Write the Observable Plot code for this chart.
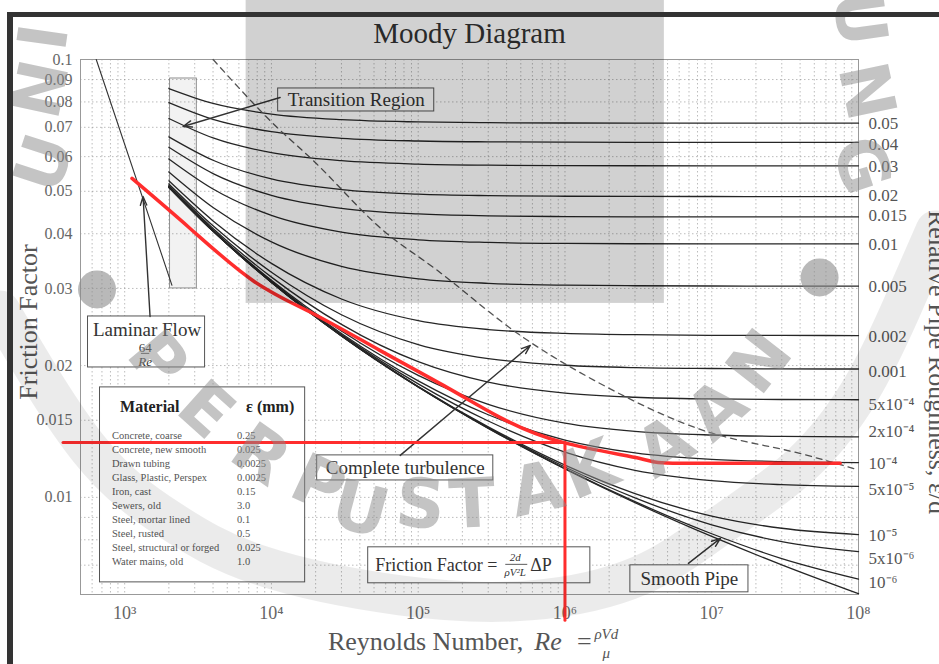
<!DOCTYPE html>
<html><head><meta charset="utf-8">
<script src="https://cdn.jsdelivr.net/npm/d3@7"></script>
<script src="https://cdn.jsdelivr.net/npm/@observablehq/plot@0.6"></script>
<style>
html,body{margin:0;padding:0;background:#fff;}
#wrap{position:relative;width:939px;height:664px;overflow:hidden;background:#fff;}
#chart{position:absolute;left:0;top:0;}
.bar{position:absolute;background:#333;z-index:5;}
</style></head><body>
<div id="wrap"><div id="chart"></div>
<div class="bar" style="left:7px;top:12px;width:932px;height:5px"></div>
<div class="bar" style="left:7px;top:12px;width:6px;height:652px"></div>
</div>
<script>
// ---------- DATA ----------
const reGrid = [2000, 4000, 1e4, 3e4, 1e5, 3e5, 1e6, 3e6, 1e7, 3e7, 1e8];
const fEps05  = [0.08584, 0.07938, 0.07505, 0.07286, 0.07200, 0.07172, 0.07161, 0.07157, 0.07156, 0.07155, 0.07155];
const fEps04  = [0.07972, 0.07298, 0.06840, 0.06608, 0.06515, 0.06485, 0.06473, 0.06469, 0.06468, 0.06467, 0.06467];
const fEps03  = [0.07334, 0.06621, 0.06127, 0.05873, 0.05770, 0.05737, 0.05724, 0.05720, 0.05718, 0.05718, 0.05718];
const fEps02  = [0.06659, 0.05887, 0.05336, 0.05045, 0.04926, 0.04887, 0.04872, 0.04867, 0.04865, 0.04864, 0.04864];
const fEps015 = [0.06302, 0.05489, 0.04895, 0.04573, 0.04439, 0.04395, 0.04378, 0.04372, 0.04370, 0.04369, 0.04369];
const fEps01  = [0.05929, 0.05062, 0.04404, 0.04034, 0.03875, 0.03822, 0.03801, 0.03795, 0.03792, 0.03791, 0.03791];
const fEps005 = [0.05534, 0.04591, 0.03833, 0.03369, 0.03156, 0.03082, 0.03052, 0.03043, 0.03039, 0.03038, 0.03037];
const fEps002 = [0.05283, 0.04280, 0.03422, 0.02838, 0.02533, 0.02417, 0.02368, 0.02352, 0.02345, 0.02343, 0.02342];
const fEps001 = [0.05197, 0.04170, 0.03267, 0.02613, 0.02234, 0.02075, 0.02003, 0.01978, 0.01969, 0.01965, 0.01964];
const fEps5e4 = [0.05154, 0.04113, 0.03184, 0.02483, 0.02041, 0.01833, 0.01730, 0.01693, 0.01678, 0.01673, 0.01671];
const fEps2e4 = [0.05127, 0.04078, 0.03132, 0.02398, 0.01899, 0.01631, 0.01477, 0.01415, 0.01388, 0.01378, 0.01375];
const fEps1e4 = [0.05118, 0.04067, 0.03115, 0.02368, 0.01845, 0.01544, 0.01351, 0.01263, 0.01221, 0.01207, 0.01201];
const fEps5e5 = [0.05114, 0.04061, 0.03106, 0.02353, 0.01816, 0.01494, 0.01269, 0.01153, 0.01092, 0.01069, 0.01059];
const fEps1e5 = [0.05110, 0.04056, 0.03099, 0.02340, 0.01792, 0.01449, 0.01185, 0.01020, 0.009059, 0.008500, 0.008224];
const fEps5e6 = [0.05110, 0.04056, 0.03098, 0.02339, 0.01789, 0.01443, 0.01173, 0.009974, 0.008657, 0.007927, 0.007519];
const fEps1e6 = [0.05110, 0.04055, 0.03098, 0.02338, 0.01787, 0.01439, 0.01163, 0.009776, 0.008258, 0.007249, 0.006506];
const fSmooth = [0.05110, 0.04055, 0.03097, 0.02337, 0.01786, 0.01437, 0.01161, 0.009724, 0.008142, 0.007013, 0.006026];

const roughLabels = ["0.05","0.04","0.03","0.02","0.015","0.01","0.005","0.002","0.001","5x10⁻⁴","2x10⁻⁴","10⁻⁴","5x10⁻⁵","10⁻⁵","5x10⁻⁶","10⁻⁶"];
const roughLabelF = [0.0714, 0.0640, 0.0570, 0.0489, 0.0440, 0.0378, 0.0303, 0.0233, 0.0194, 0.0163, 0.0141, 0.01196, 0.01043, 0.00819, 0.00726, 0.00640];

const laminarRe = [640, 2100];
const laminarF  = [0.1, 0.0305];

const dashRe = [4004, 10270, 19240, 57740, 134800, 496100, 1944000, 7990000, 44900000, 100000000];
const dashF  = [0.1, 0.0714, 0.0588, 0.0407, 0.0330, 0.02344, 0.01783, 0.01437, 0.01247, 0.01155];

const redCurveRe = [1122, 2790, 7460, 19130, 54780, 156800, 360400, 969000, 3246000, 6080000, 75000000];
const redCurveF  = [0.0535, 0.04113, 0.03129, 0.0263, 0.02166, 0.01783, 0.01523, 0.01335, 0.01227, 0.01196, 0.01196];
const redHRe = [380, 1e6];
const redHF  = [0.01335, 0.01335];
const redVRe = [1e6, 1e6];
const redVF  = [0.01335, 0.005238];

const yTickValues = [0.1, 0.09, 0.08, 0.07, 0.06, 0.05, 0.04, 0.03, 0.02, 0.015, 0.01];
const yTickLabels = ["0.1","0.09","0.08","0.07","0.06","0.05","0.04","0.03","0.02","0.015","0.01"];
const xTickValues = [1e3, 1e4, 1e5, 1e6, 1e7, 1e8];
const xTickLabels = ["10³","10⁴","10⁵","10⁶","10⁷","10⁸"];

const materialNames = ["Concrete, coarse","Concrete, new smooth","Drawn tubing","Glass, Plastic, Perspex","Iron, cast","Sewers, old","Steel, mortar lined","Steel, rusted","Steel, structural or forged","Water mains, old"];
const materialEps = ["0.25","0.025","0.0025","0.0025","0.15","3.0","0.1","0.5","0.025","1.0"];

const wmChars = ["I","N","U","U","N","G","P","E","R","P","U","S","T","A","K","A","A","N"];

// ---------- build tables ----------
const curves = [
  ["0.05", fEps05], ["0.04", fEps04], ["0.03", fEps03], ["0.02", fEps02], ["0.015", fEps015],
  ["0.01", fEps01], ["0.005", fEps005], ["0.002", fEps002], ["0.001", fEps001], ["5e-4", fEps5e4],
  ["2e-4", fEps2e4], ["1e-4", fEps1e4], ["5e-5", fEps5e5], ["1e-5", fEps1e5], ["5e-6", fEps5e6],
  ["1e-6", fEps1e6], ["smooth", fSmooth]
];
const curveRows = curves.flatMap(([name, fs]) => reGrid.map((re, i) => ({re, f: fs[i], name})));
const pairs = (xs, ys) => xs.map((x, i) => ({x, y: ys[i]}));
const roughRows = roughLabels.map((t, i) => ({t, f: roughLabelF[i]}));
const yTickRows = yTickValues.map((v, i) => ({v, t: yTickLabels[i]}));

// ---------- annotation layout (data units) ----------
const rowF = [0.013853, 0.012873, 0.011962, 0.011108, 0.010320, 0.009588, 0.008909, 0.008277, 0.007690, 0.007144];
const materialRows = materialNames.map((n, i) => ({n, e: materialEps[i], f: rowF[i]}));
const boxes = [
  {x1: 11110, x2: 128600, y1: 0.07608, y2: 0.08587},
  {x1: 562.5, x2: 3530, y1: 0.01980, y2: 0.02589},
  {x1: 679, x2: 16970, y1: 0.006395, y2: 0.01783},
  {x1: 20490, x2: 324800, y1: 0.01093, y2: 0.01247},
  {x1: 45630, x2: 1489000, y1: 0.006364, y2: 0.00769},
  {x1: 2.79e6, x2: 1.779e7, y1: 0.006069, y2: 0.006995}
];
const annText = [
  {x: 37790, y: 0.08081, t: "Transition Region"},
  {x: 1420, y: 0.02418, t: "Laminar Flow"},
  {x: 81540, y: 0.01168, t: "Complete turbulence"},
  {x: 7.04e6, y: 0.006498, t: "Smooth Pipe"}
];
const arrows = [
  {x1: 11460, y1: 0.08187, x2: 2500, y2: 0.07031},
  {x1: 1489, y1: 0.02589, x2: 1334, y2: 0.04867},
  {x1: 75410, y1: 0.01247, x2: 580200, y2: 0.02223},
  {x1: 6.93e6, y1: 0.007068, x2: 1.146e7, y2: 0.008061}
];
const transBox = [{x1: 2040, x2: 3100, y1: 0.030, y2: 0.0905}];
const overlay = [{x1: 6721, x2: 4757000, y1: 0.02773, y2: 0.1364}];
const wmPos = [
  [286.4, 0.1123, -82], [273.3, 0.08542, -78], [286.4, 0.05790, -72],
  [1e8, 0.1241, 82], [1.116e8, 0.08451, 78], [1.032e8, 0.05728, 72],
  [1665, 0.02055, 50], [3538, 0.01579, 42], [8372, 0.01247, 35], [20810, 0.01065, 25],
  [40230, 0.009339, 15], [103200, 0.009588, 5], [233400, 0.009588, -3], [647900, 0.01038, -12],
  [1489000, 0.01152, -22], [4834000, 0.01301, -32], [10940000, 0.01579, -42], [21480000, 0.02033, -52]
];
const wmRows = wmChars.map((c, i) => ({c, x: wmPos[i][0], y: wmPos[i][1], r: wmPos[i][2]}));
const wmDots = [{x: 648, y: 0.02985}, {x: 5.43e7, y: 0.03179}];
const bandRe = [141.3, 580.4, 2038, 8372, 75410, 580200, 3.263e6, 1.146e7, 4.023e7, 1.032e8, 1.934e8, 3.35e8];
const bandF  = [0.02673, 0.01280, 0.008862, 0.006995, 0.005973, 0.005817, 0.006636, 0.008630, 0.01183, 0.01755, 0.02673, 0.04071];

const gridStyle = {stroke: "#777", strokeOpacity: 0.55, strokeDasharray: "1.5,2.5", strokeWidth: 0.9};
const serif = "'Liberation Serif','Times New Roman',serif";
const mid = {textAnchor: "middle", lineAnchor: "middle"};

const chart = Plot.plot({
  width: 939, height: 664,
  marginLeft: 80, marginRight: 81, marginTop: 59, marginBottom: 70,
  x: {type: "log", domain: [500, 1e8]},
  y: {type: "log", domain: [0.006, 0.1], axis: null},
  style: {fontFamily: serif, background: "transparent", color: "#444"},
  marks: [
    Plot.gridX({ticks: 12, ...gridStyle}),
    Plot.gridY({ticks: 12, ...gridStyle}),
    Plot.ruleY([0.015], gridStyle),
    Plot.frame({stroke: "#999"}),
    Plot.rect(transBox, {x1: "x1", x2: "x2", y1: "y1", y2: "y2", fill: "#000", fillOpacity: 0.05, stroke: "#777", strokeWidth: 0.8}),
    Plot.line(pairs(laminarRe, laminarF), {x: "x", y: "y", stroke: "#333", strokeWidth: 1.1}),
    Plot.line(curveRows, {x: "re", y: "f", z: "name", curve: "monotone-x", stroke: "#262626", strokeWidth: 1.3}),
    Plot.line(pairs(dashRe, dashF), {x: "x", y: "y", curve: "monotone-x", stroke: "#555", strokeWidth: 1.3, strokeDasharray: "6,5"}),
    Plot.text(roughRows, {x: 1e8, y: "f", text: "t", dx: 10, textAnchor: "start", fontSize: 17, fill: "#555"}),
    // annotation boxes
    Plot.rect(boxes, {x1: "x1", x2: "x2", y1: "y1", y2: "y2", fill: "white", stroke: "#555", strokeWidth: 1}),
    Plot.text(annText, {x: "x", y: "y", text: "t", fontSize: 19, fill: "#333"}),
    Plot.text(["64"], {x: 1380, y: 0.02201, text: d => d, fontSize: 13, fill: "#333"}),
    Plot.link([{a: 1290, b: 1470, y: 0.02132}], {x1: "a", x2: "b", y1: "y", y2: "y", stroke: "#333", strokeWidth: 0.8}),
    Plot.text(["Re"], {x: 1380, y: 0.02044, text: d => d, fontSize: 13, fontStyle: "italic", fill: "#333"}),
    Plot.text(["Friction Factor ="], {x: 50920, y: 0.006995, text: d => d, textAnchor: "start", fontSize: 18, fill: "#333"}),
    Plot.text(["2d"], {x: 458500, y: 0.007295, text: d => d, fontSize: 11, fontStyle: "italic", fill: "#333"}),
    Plot.link([{a: 391900, b: 553500, y: 0.007031}], {x1: "a", x2: "b", y1: "y", y2: "y", stroke: "#333", strokeWidth: 0.8}),
    Plot.text(["ρV²L"], {x: 458500, y: 0.006742, text: d => d, fontSize: 11, fontStyle: "italic", fill: "#333"}),
    Plot.text(["ΔP"], {x: 580200, y: 0.006995, text: d => d, textAnchor: "start", fontSize: 18, fill: "#333"}),
    // material table
    Plot.text(["Material"], {x: 929.6, y: 0.01613, text: d => d, textAnchor: "start", fontSize: 16, fontWeight: "bold", fill: "#222"}),
    Plot.text(["ε (mm)"], {x: 6721, y: 0.01613, text: d => d, textAnchor: "start", fontSize: 16, fontWeight: "bold", fill: "#222"}),
    Plot.text(materialRows, {x: 820, y: "f", text: "n", textAnchor: "start", fontSize: 10.5, fill: "#555"}),
    Plot.text(materialRows, {x: 5834, y: "f", text: "e", textAnchor: "start", fontSize: 10.5, fill: "#555"}),
    Plot.arrow(arrows, {x1: "x1", y1: "y1", x2: "x2", y2: "y2", stroke: "#333", strokeWidth: 1.4, headLength: 10, headAngle: 40}),
    // axes
    Plot.axisX({ticks: xTickValues, tickFormat: d => xTickLabels[xTickValues.indexOf(d)], tickSize: 0, tickPadding: 12, fontSize: 18, label: null, fill: "#666"}),
    Plot.text(yTickRows, {y: "v", text: "t", frameAnchor: "left", dx: -8, textAnchor: "end", lineAnchor: "middle", fontSize: 16, fill: "#666"}),
    Plot.text(["Moody Diagram"], {frameAnchor: "top", text: d => d, dy: -26, ...mid, fontSize: 29, fill: "#333"}),
    Plot.text(["Friction Factor"], {frameAnchor: "left", text: d => d, dx: -52, dy: -5, rotate: -90, ...mid, fontSize: 26, fill: "#555"}),
    Plot.text(["Relative Pipe Roughness, ε/d"], {frameAnchor: "right", text: d => d, dx: 79, dy: 35, rotate: 90, ...mid, fontSize: 26, fill: "#555"}),
    Plot.text(["Reynolds Number,"], {x: 520000, frameAnchor: "bottom", text: d => d, dy: 47, textAnchor: "end", lineAnchor: "middle", fontSize: 26, fill: "#555"}),
    Plot.text(["Re"], {x: 618100, frameAnchor: "bottom", text: d => d, dy: 47, textAnchor: "start", lineAnchor: "middle", fontSize: 26, fontStyle: "italic", fill: "#555"}),
    Plot.text(["="], {x: 1.355e6, frameAnchor: "bottom", text: d => d, dy: 47, ...mid, fontSize: 26, fill: "#555"}),
    Plot.text(["ρVd"], {x: 1.914e6, frameAnchor: "bottom", text: d => d, dy: 40, ...mid, fontSize: 15, fontStyle: "italic", fill: "#555"}),
    Plot.text(["μ"], {x: 1.914e6, frameAnchor: "bottom", text: d => d, dy: 59, ...mid, fontSize: 15, fontStyle: "italic", fill: "#555"}),
    // red hand-drawn annotation
    Plot.line(pairs(redCurveRe, redCurveF), {x: "x", y: "y", curve: "natural", stroke: "#ff2d2d", strokeWidth: 3.5}),
    Plot.line(pairs(redHRe, redHF), {x: "x", y: "y", stroke: "#ff2d2d", strokeWidth: 3}),
    Plot.line(pairs(redVRe, redVF), {x: "x", y: "y", stroke: "#ff2d2d", strokeWidth: 3}),
    // watermark
    Plot.line(pairs(bandRe, bandF), {x: "x", y: "y", curve: "natural", stroke: "#000", strokeOpacity: 0.08, strokeWidth: 40}),
    Plot.dot(wmDots, {x: "x", y: "y", r: 19, fill: "#8a8a8a", fillOpacity: 0.6, stroke: null}),
    Plot.text(wmRows, {x: "x", y: "y", text: "c", rotate: "r", fontSize: 68, fontWeight: "bold", fontFamily: "DejaVu Sans", fill: "#8a8a8a", fillOpacity: 0.5}),
    // gray overlay
    Plot.rect(overlay, {x1: "x1", x2: "x2", y1: "y1", y2: "y2", fill: "#000", fillOpacity: 0.18})
  ]
});
document.getElementById("chart").appendChild(chart);
</script></body></html>
